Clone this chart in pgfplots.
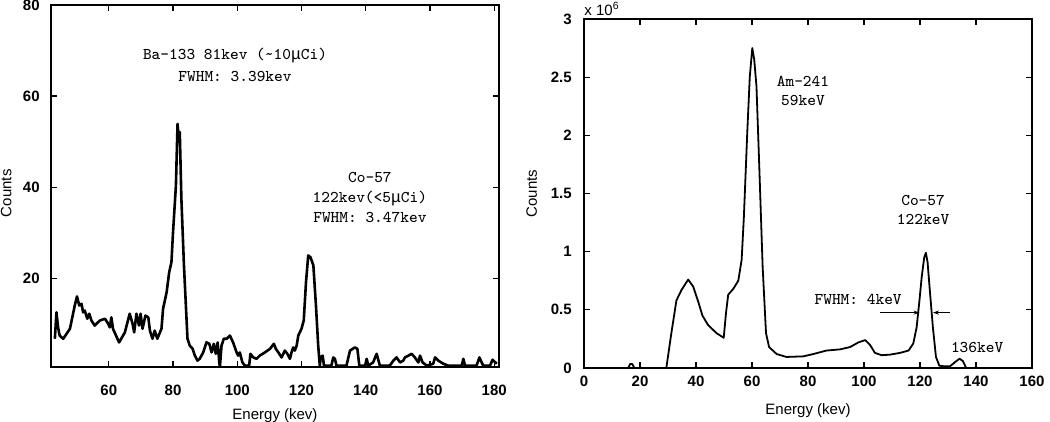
\documentclass[border=0pt]{standalone}
\usepackage{fontspec}
\setmainfont{Liberation Sans}
\newfontfamily\mufont{Liberation Mono}
\usepackage{pgfplots}
\pgfplotsset{compat=1.18}
\usetikzlibrary{arrows.meta}

% left spectrum: Ba-133 / Co-57 (counts)
\pgfplotstableread{
x y
43.2 6.7
43.7 12.5
44.2 9.2
44.7 7.4
45.8 6.7
47.9 8.9
49.4 14.0
50.1 16.0
50.8 14.0
51.5 14.4
52.0 12.5
52.5 12.9
53.3 11.1
53.9 12.2
54.6 10.7
55.6 9.6
57.2 10.7
58.8 11.1
59.8 10.0
60.3 9.2
60.8 11.4
61.3 8.9
63.2 5.9
65.0 8.1
66.5 12.2
67.4 10.0
67.9 8.1
68.6 12.2
69.4 9.6
69.9 12.2
70.5 8.9
71.4 11.8
72.3 11.4
72.8 8.5
73.6 6.7
74.3 8.5
75.1 6.7
76.4 8.9
76.9 13.3
78.0 16.9
78.8 21.3
79.5 23.5
80.0 30.1
80.9 40.4
81.4 53.9
81.8 50.6
82.1 52.1
82.6 37.4
83.4 22.8
84.0 14.0
84.5 6.7
85.2 5.2
86.1 4.5
86.8 3.0
87.6 1.9
88.3 2.3
89.4 3.7
90.4 5.9
91.3 5.6
92.0 3.7
92.7 5.6
93.3 3.4
93.9 5.9
94.4 1.5
94.6 0.6
95.1 5.2
95.8 6.7
96.7 6.7
97.7 7.4
98.7 5.9
99.8 3.7
100.3 3.0
100.8 3.7
101.6 1.5
102.4 0.8
103.7 0.8
104.1 3.4
105.0 2.6
106.0 2.3
107.0 3.0
108.6 3.7
110.2 4.5
111.4 5.6
112.0 4.5
112.8 3.7
113.8 2.6
114.8 4.1
115.6 3.4
116.4 2.3
116.9 3.7
117.4 4.8
117.9 4.1
118.5 5.2
119.0 7.4
120.0 8.9
120.7 10.7
121.4 19.1
122.1 25.0
122.8 24.6
123.7 22.8
124.5 14.0
125.2 5.2
125.7 0.8
126.0 2.6
126.6 3.0
127.0 0.8
129.3 0.8
129.9 2.6
130.4 2.3
130.9 0.8
134.0 0.8
135.1 4.1
136.6 4.8
137.4 4.5
138.0 0.8
139.8 0.8
140.3 2.3
140.8 0.8
142.3 1.5
143.4 3.4
144.4 0.8
147.5 0.8
148.6 1.9
149.6 2.6
150.7 1.5
151.7 1.9
152.2 2.6
153.3 3.0
154.3 3.4
155.3 2.6
156.4 1.5
156.9 3.0
157.7 1.5
159.0 0.8
161.0 1.2
161.6 2.6
162.6 1.9
164.2 1.2
165.7 0.8
169.9 0.8
170.4 2.3
170.9 0.8
174.5 0.8
175.4 2.6
176.1 1.5
176.6 0.8
178.7 0.8
179.5 2.1
180.8 1.2
}\leftspec

% right spectrum: Am-241 / Co-57 (counts x 10^6)
\pgfplotstableread{
x y
0 0
15.8 0
16.5 0.035
17.2 0.035
18.0 0
29.4 0
31.2 0.30
33.0 0.58
34.8 0.67
37.2 0.76
39.0 0.70
40.8 0.57
42.3 0.45
44.3 0.37
47.3 0.30
49.9 0.26
50.7 0.47
51.5 0.63
53.3 0.68
55.1 0.75
56.3 0.93
57.1 1.30
58.3 2.02
59.2 2.50
60.1 2.75
60.8 2.65
61.6 2.42
62.6 1.73
63.8 0.87
65.0 0.30
66.1 0.18
68.8 0.12
72.3 0.095
78.3 0.10
81.9 0.12
86.6 0.15
91.4 0.16
95.0 0.18
98.0 0.22
100.4 0.24
102.1 0.20
103.9 0.13
106.3 0.11
109.3 0.115
112.9 0.13
115.9 0.15
117.6 0.21
118.8 0.35
119.8 0.58
120.6 0.78
121.5 0.95
122.1 0.99
122.7 0.91
123.6 0.64
124.6 0.35
125.7 0.095
126.9 0.02
128.4 0.015
130.7 0.015
132.5 0.05
134.1 0.08
135.3 0.06
136.5 0
}\rightspec

\tikzset{note/.style={font=\fontsize{8.2bp}{10bp}\selectfont\ttfamily, inner sep=0pt, anchor=center}}

\begin{document}
\begin{tikzpicture}
\useasboundingbox (0bp,0bp) rectangle (525bp,211bp);
\pgfplotsset{
  spec/.style={
    scale only axis,
    anchor=south west,
    width=224bp,
    axis line style={line width=1bp},
    tick style={line width=0.6bp, black},
    major tick length=3bp,
    tick align=inside,
    ticklabel style={font=\fontsize{7.5bp}{9bp}\selectfont\bfseries, inner sep=0pt},
    /pgf/number format/assume math mode=true,
    label style={font=\fontsize{7.5bp}{9bp}\selectfont},
    yticklabel style={anchor=east},
    xticklabel style={anchor=center},
    clip mode=individual,
  },
}

\begin{axis}[spec,
  at={(25.5bp,27.5bp)}, height=181bp,
  xmin=42, xmax=181.5, ymin=0.5, ymax=80,
  xtick={60,80,...,180}, ytick={20,40,60,80},
  xticklabel style={yshift=-11.5bp},
  yticklabel style={xshift=-5.5bp},
  xlabel={Energy (kev)}, ylabel={Counts},
  xlabel style={at={(axis description cs:0.5,-0.133)}, anchor=center},
  ylabel style={at={(axis description cs:-0.1,0.48)}, anchor=center},
]
\addplot[black, line width=1.3bp, line join=round] table[x=x,y=y] {\leftspec};
\node[note] at (axis cs:99.3,68.8) {Ba-133 81kev (\textasciitilde10{\mufont μ}Ci)};
\node[note] at (axis cs:99.3,64.4) {FWHM: 3.39kev};
\node[note] at (axis cs:141.3,42.2) {Co-57};
\node[note] at (axis cs:141.3,37.6) {122kev(<5{\mufont μ}Ci)};
\node[note] at (axis cs:141.3,33.4) {FWHM: 3.47kev};
\end{axis}

\begin{axis}[spec,
  at={(292bp,27bp)}, height=174.5bp,
  xmin=0, xmax=160, ymin=0, ymax=3,
  xtick={0,20,...,160}, ytick={0,0.5,1,1.5,2,2.5,3},
  yticklabels={0,0.5,1,1.5,2,2.5,3},
  xticklabel style={yshift=-6.5bp},
  yticklabel style={xshift=-6bp},
  xlabel={Energy (kev)}, ylabel={Counts},
  xlabel style={at={(axis description cs:0.5,-0.123)}, anchor=center},
  ylabel style={at={(axis description cs:-0.117,0.5)}, anchor=center},
]
\addplot[black, line width=0.9bp, line join=round] table[x=x,y=y] {\rightspec};
\node[anchor=south west, inner sep=0pt, font=\fontsize{7.5bp}{9bp}\selectfont] at (rel axis cs:0,1) [yshift=1.5bp] {x 10\textsuperscript{6}};
\node[note] at (axis cs:78.2,2.46) {Am-241};
\node[note] at (axis cs:78.2,2.30) {59keV};
\node[note] at (axis cs:121.1,1.44) {Co-57};
\node[note] at (axis cs:121.1,1.28) {122keV};
\node[note] at (axis cs:97.9,0.585) {FWHM: 4keV};
\node[note] at (axis cs:140.4,0.18) {136keV};
\draw[line width=0.4bp, -{Stealth[length=3bp,width=2bp]}] (axis cs:105.7,0.476) -- (axis cs:119.8,0.476);
\draw[line width=0.4bp, -{Stealth[length=3bp,width=2bp]}] (axis cs:130.7,0.476) -- (axis cs:124.6,0.476);
\end{axis}
\end{tikzpicture}
\end{document}
